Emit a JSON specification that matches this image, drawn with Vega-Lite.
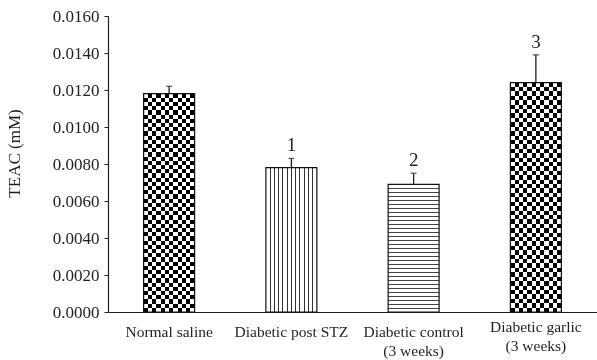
{
  "$schema": "https://vega.github.io/schema/vega-lite/v6.json",
  "autosize": {"type": "none"},
  "width": 489,
  "height": 296,
  "padding": {"left": 108, "top": 16, "right": 0, "bottom": 48},
  "background": "white",
  "config": {
    "view": {"stroke": null},
    "font": "Liberation Serif",
    "axis": {"labelFont": "Liberation Serif", "titleFont": "Liberation Serif", "labelColor": "#231f20", "titleColor": "#231f20", "domainColor": "#231f20", "tickColor": "#231f20", "grid": false, "labelOverlap": false}
  },
  "data": {
    "values": [
      {"group": "Normal saline", "teac": 0.0118, "upper": 0.0122, "sig": ""},
      {"group": "Diabetic post STZ", "teac": 0.0078, "upper": 0.0083, "sig": "1"},
      {"group": "Diabetic control (3 weeks)", "teac": 0.0069, "upper": 0.0075, "sig": "2"},
      {"group": "Diabetic garlic (3 weeks)", "teac": 0.0124, "upper": 0.0139, "sig": "3"}
    ]
  },
  "encoding": {
    "x": {
      "field": "group", "type": "nominal",
      "scale": {"domain": ["Normal saline", "Diabetic post STZ", "Diabetic control (3 weeks)", "Diabetic garlic (3 weeks)"], "paddingInner": 0.583, "paddingOuter": 0.2915},
      "axis": {
        "title": null, "ticks": false, "labelAngle": 0, "labelFontSize": 15.5,
        "labelPadding": {"condition": {"test": "datum.value == 'Diabetic garlic (3 weeks)'", "value": 7}, "value": 12},
        "labelLineHeight": 19, "domainWidth": 1.2,
        "labelExpr": "split(replace(datum.label, ' (', '|('), '|')"
      }
    },
    "y": {"field": "teac", "type": "quantitative", "scale": {"domain": [0, 0.016], "nice": false},
      "axis": {"title": "TEAC (mM)", "values": [0, 0.002, 0.004, 0.006, 0.008, 0.01, 0.012, 0.014, 0.016], "format": ".4f",
        "labelOverlap": false, "labelFontSize": 17, "titleFontSize": 17, "titleFontWeight": "normal", "tickSize": 4, "labelPadding": 5, "titlePadding": 29, "titleY": 137, "domainWidth": 1.2}}
  },
  "layer": [
    {
      "transform": [{"filter": "datum.group == 'Normal saline' || datum.group == 'Diabetic garlic (3 weeks)'"}],
      "mark": {"type": "bar", "fill": {"gradient": "linear", "x1": 0, "y1": 0, "x2": 1, "y2": 0, "stops": [
        {"offset": 0, "color": "black"}, {"offset": 0.08333, "color": "black"},
        {"offset": 0.08333, "color": "white"}, {"offset": 0.16667, "color": "white"},
        {"offset": 0.16667, "color": "black"}, {"offset": 0.25, "color": "black"},
        {"offset": 0.25, "color": "white"}, {"offset": 0.33333, "color": "white"},
        {"offset": 0.33333, "color": "black"}, {"offset": 0.41667, "color": "black"},
        {"offset": 0.41667, "color": "white"}, {"offset": 0.5, "color": "white"},
        {"offset": 0.5, "color": "black"}, {"offset": 0.58333, "color": "black"},
        {"offset": 0.58333, "color": "white"}, {"offset": 0.66667, "color": "white"},
        {"offset": 0.66667, "color": "black"}, {"offset": 0.75, "color": "black"},
        {"offset": 0.75, "color": "white"}, {"offset": 0.83333, "color": "white"},
        {"offset": 0.83333, "color": "black"}, {"offset": 0.91667, "color": "black"},
        {"offset": 0.91667, "color": "white"}, {"offset": 1, "color": "white"}
      ]}}
    },
    {
      "transform": [{"filter": "datum.group == 'Normal saline' || datum.group == 'Diabetic garlic (3 weeks)'"}],
      "mark": {"type": "bar", "blend": "difference", "fill": {"gradient": "linear", "x1": 0, "y1": 0, "x2": 0, "y2": 1, "stops": [
        {"offset": 0, "color": "white"}, {"offset": 0.01923, "color": "white"},
        {"offset": 0.01923, "color": "black"}, {"offset": 0.03846, "color": "black"},
        {"offset": 0.03846, "color": "white"}, {"offset": 0.05769, "color": "white"},
        {"offset": 0.05769, "color": "black"}, {"offset": 0.07692, "color": "black"},
        {"offset": 0.07692, "color": "white"}, {"offset": 0.09615, "color": "white"},
        {"offset": 0.09615, "color": "black"}, {"offset": 0.11538, "color": "black"},
        {"offset": 0.11538, "color": "white"}, {"offset": 0.13462, "color": "white"},
        {"offset": 0.13462, "color": "black"}, {"offset": 0.15385, "color": "black"},
        {"offset": 0.15385, "color": "white"}, {"offset": 0.17308, "color": "white"},
        {"offset": 0.17308, "color": "black"}, {"offset": 0.19231, "color": "black"},
        {"offset": 0.19231, "color": "white"}, {"offset": 0.21154, "color": "white"},
        {"offset": 0.21154, "color": "black"}, {"offset": 0.23077, "color": "black"},
        {"offset": 0.23077, "color": "white"}, {"offset": 0.25, "color": "white"},
        {"offset": 0.25, "color": "black"}, {"offset": 0.26923, "color": "black"},
        {"offset": 0.26923, "color": "white"}, {"offset": 0.28846, "color": "white"},
        {"offset": 0.28846, "color": "black"}, {"offset": 0.30769, "color": "black"},
        {"offset": 0.30769, "color": "white"}, {"offset": 0.32692, "color": "white"},
        {"offset": 0.32692, "color": "black"}, {"offset": 0.34615, "color": "black"},
        {"offset": 0.34615, "color": "white"}, {"offset": 0.36538, "color": "white"},
        {"offset": 0.36538, "color": "black"}, {"offset": 0.38462, "color": "black"},
        {"offset": 0.38462, "color": "white"}, {"offset": 0.40385, "color": "white"},
        {"offset": 0.40385, "color": "black"}, {"offset": 0.42308, "color": "black"},
        {"offset": 0.42308, "color": "white"}, {"offset": 0.44231, "color": "white"},
        {"offset": 0.44231, "color": "black"}, {"offset": 0.46154, "color": "black"},
        {"offset": 0.46154, "color": "white"}, {"offset": 0.48077, "color": "white"},
        {"offset": 0.48077, "color": "black"}, {"offset": 0.5, "color": "black"},
        {"offset": 0.5, "color": "white"}, {"offset": 0.51923, "color": "white"},
        {"offset": 0.51923, "color": "black"}, {"offset": 0.53846, "color": "black"},
        {"offset": 0.53846, "color": "white"}, {"offset": 0.55769, "color": "white"},
        {"offset": 0.55769, "color": "black"}, {"offset": 0.57692, "color": "black"},
        {"offset": 0.57692, "color": "white"}, {"offset": 0.59615, "color": "white"},
        {"offset": 0.59615, "color": "black"}, {"offset": 0.61538, "color": "black"},
        {"offset": 0.61538, "color": "white"}, {"offset": 0.63462, "color": "white"},
        {"offset": 0.63462, "color": "black"}, {"offset": 0.65385, "color": "black"},
        {"offset": 0.65385, "color": "white"}, {"offset": 0.67308, "color": "white"},
        {"offset": 0.67308, "color": "black"}, {"offset": 0.69231, "color": "black"},
        {"offset": 0.69231, "color": "white"}, {"offset": 0.71154, "color": "white"},
        {"offset": 0.71154, "color": "black"}, {"offset": 0.73077, "color": "black"},
        {"offset": 0.73077, "color": "white"}, {"offset": 0.75, "color": "white"},
        {"offset": 0.75, "color": "black"}, {"offset": 0.76923, "color": "black"},
        {"offset": 0.76923, "color": "white"}, {"offset": 0.78846, "color": "white"},
        {"offset": 0.78846, "color": "black"}, {"offset": 0.80769, "color": "black"},
        {"offset": 0.80769, "color": "white"}, {"offset": 0.82692, "color": "white"},
        {"offset": 0.82692, "color": "black"}, {"offset": 0.84615, "color": "black"},
        {"offset": 0.84615, "color": "white"}, {"offset": 0.86538, "color": "white"},
        {"offset": 0.86538, "color": "black"}, {"offset": 0.88462, "color": "black"},
        {"offset": 0.88462, "color": "white"}, {"offset": 0.90385, "color": "white"},
        {"offset": 0.90385, "color": "black"}, {"offset": 0.92308, "color": "black"},
        {"offset": 0.92308, "color": "white"}, {"offset": 0.94231, "color": "white"},
        {"offset": 0.94231, "color": "black"}, {"offset": 0.96154, "color": "black"},
        {"offset": 0.96154, "color": "white"}, {"offset": 0.98077, "color": "white"},
        {"offset": 0.98077, "color": "black"}, {"offset": 1, "color": "black"}
      ]}}
    },
    {
      "transform": [{"filter": "datum.group == 'Diabetic post STZ'"}],
      "mark": {"type": "bar", "fill": {"gradient": "linear", "x1": 0, "y1": 0, "x2": 1, "y2": 0, "stops": [
        {"offset": 0, "color": "white"},
        {"offset": 0.07333, "color": "white"}, {"offset": 0.07333, "color": "#333"}, {"offset": 0.09333, "color": "#333"}, {"offset": 0.09333, "color": "white"},
        {"offset": 0.15667, "color": "white"}, {"offset": 0.15667, "color": "#333"}, {"offset": 0.17667, "color": "#333"}, {"offset": 0.17667, "color": "white"},
        {"offset": 0.24, "color": "white"}, {"offset": 0.24, "color": "#333"}, {"offset": 0.26, "color": "#333"}, {"offset": 0.26, "color": "white"},
        {"offset": 0.32333, "color": "white"}, {"offset": 0.32333, "color": "#333"}, {"offset": 0.34333, "color": "#333"}, {"offset": 0.34333, "color": "white"},
        {"offset": 0.40667, "color": "white"}, {"offset": 0.40667, "color": "#333"}, {"offset": 0.42667, "color": "#333"}, {"offset": 0.42667, "color": "white"},
        {"offset": 0.49, "color": "white"}, {"offset": 0.49, "color": "#333"}, {"offset": 0.51, "color": "#333"}, {"offset": 0.51, "color": "white"},
        {"offset": 0.57333, "color": "white"}, {"offset": 0.57333, "color": "#333"}, {"offset": 0.59333, "color": "#333"}, {"offset": 0.59333, "color": "white"},
        {"offset": 0.65667, "color": "white"}, {"offset": 0.65667, "color": "#333"}, {"offset": 0.67667, "color": "#333"}, {"offset": 0.67667, "color": "white"},
        {"offset": 0.74, "color": "white"}, {"offset": 0.74, "color": "#333"}, {"offset": 0.76, "color": "#333"}, {"offset": 0.76, "color": "white"},
        {"offset": 0.82333, "color": "white"}, {"offset": 0.82333, "color": "#333"}, {"offset": 0.84333, "color": "#333"}, {"offset": 0.84333, "color": "white"},
        {"offset": 0.90667, "color": "white"}, {"offset": 0.90667, "color": "#333"}, {"offset": 0.92667, "color": "#333"}, {"offset": 0.92667, "color": "white"},
        {"offset": 1, "color": "white"}
      ]}}
    },
    {
      "transform": [{"filter": "datum.group == 'Diabetic control (3 weeks)'"}],
      "mark": {"type": "bar", "fill": {"gradient": "linear", "x1": 0, "y1": 0, "x2": 0, "y2": 1, "stops": [
        {"offset": 0, "color": "white"},
        {"offset": 0.02725, "color": "white"}, {"offset": 0.02725, "color": "#444"}, {"offset": 0.03525, "color": "#444"}, {"offset": 0.03525, "color": "white"},
        {"offset": 0.0585, "color": "white"}, {"offset": 0.0585, "color": "#444"}, {"offset": 0.0665, "color": "#444"}, {"offset": 0.0665, "color": "white"},
        {"offset": 0.08975, "color": "white"}, {"offset": 0.08975, "color": "#444"}, {"offset": 0.09775, "color": "#444"}, {"offset": 0.09775, "color": "white"},
        {"offset": 0.121, "color": "white"}, {"offset": 0.121, "color": "#444"}, {"offset": 0.129, "color": "#444"}, {"offset": 0.129, "color": "white"},
        {"offset": 0.15225, "color": "white"}, {"offset": 0.15225, "color": "#444"}, {"offset": 0.16025, "color": "#444"}, {"offset": 0.16025, "color": "white"},
        {"offset": 0.1835, "color": "white"}, {"offset": 0.1835, "color": "#444"}, {"offset": 0.1915, "color": "#444"}, {"offset": 0.1915, "color": "white"},
        {"offset": 0.21475, "color": "white"}, {"offset": 0.21475, "color": "#444"}, {"offset": 0.22275, "color": "#444"}, {"offset": 0.22275, "color": "white"},
        {"offset": 0.246, "color": "white"}, {"offset": 0.246, "color": "#444"}, {"offset": 0.254, "color": "#444"}, {"offset": 0.254, "color": "white"},
        {"offset": 0.27725, "color": "white"}, {"offset": 0.27725, "color": "#444"}, {"offset": 0.28525, "color": "#444"}, {"offset": 0.28525, "color": "white"},
        {"offset": 0.3085, "color": "white"}, {"offset": 0.3085, "color": "#444"}, {"offset": 0.3165, "color": "#444"}, {"offset": 0.3165, "color": "white"},
        {"offset": 0.33975, "color": "white"}, {"offset": 0.33975, "color": "#444"}, {"offset": 0.34775, "color": "#444"}, {"offset": 0.34775, "color": "white"},
        {"offset": 0.371, "color": "white"}, {"offset": 0.371, "color": "#444"}, {"offset": 0.379, "color": "#444"}, {"offset": 0.379, "color": "white"},
        {"offset": 0.40225, "color": "white"}, {"offset": 0.40225, "color": "#444"}, {"offset": 0.41025, "color": "#444"}, {"offset": 0.41025, "color": "white"},
        {"offset": 0.4335, "color": "white"}, {"offset": 0.4335, "color": "#444"}, {"offset": 0.4415, "color": "#444"}, {"offset": 0.4415, "color": "white"},
        {"offset": 0.46475, "color": "white"}, {"offset": 0.46475, "color": "#444"}, {"offset": 0.47275, "color": "#444"}, {"offset": 0.47275, "color": "white"},
        {"offset": 0.496, "color": "white"}, {"offset": 0.496, "color": "#444"}, {"offset": 0.504, "color": "#444"}, {"offset": 0.504, "color": "white"},
        {"offset": 0.52725, "color": "white"}, {"offset": 0.52725, "color": "#444"}, {"offset": 0.53525, "color": "#444"}, {"offset": 0.53525, "color": "white"},
        {"offset": 0.5585, "color": "white"}, {"offset": 0.5585, "color": "#444"}, {"offset": 0.5665, "color": "#444"}, {"offset": 0.5665, "color": "white"},
        {"offset": 0.58975, "color": "white"}, {"offset": 0.58975, "color": "#444"}, {"offset": 0.59775, "color": "#444"}, {"offset": 0.59775, "color": "white"},
        {"offset": 0.621, "color": "white"}, {"offset": 0.621, "color": "#444"}, {"offset": 0.629, "color": "#444"}, {"offset": 0.629, "color": "white"},
        {"offset": 0.65225, "color": "white"}, {"offset": 0.65225, "color": "#444"}, {"offset": 0.66025, "color": "#444"}, {"offset": 0.66025, "color": "white"},
        {"offset": 0.6835, "color": "white"}, {"offset": 0.6835, "color": "#444"}, {"offset": 0.6915, "color": "#444"}, {"offset": 0.6915, "color": "white"},
        {"offset": 0.71475, "color": "white"}, {"offset": 0.71475, "color": "#444"}, {"offset": 0.72275, "color": "#444"}, {"offset": 0.72275, "color": "white"},
        {"offset": 0.746, "color": "white"}, {"offset": 0.746, "color": "#444"}, {"offset": 0.754, "color": "#444"}, {"offset": 0.754, "color": "white"},
        {"offset": 0.77725, "color": "white"}, {"offset": 0.77725, "color": "#444"}, {"offset": 0.78525, "color": "#444"}, {"offset": 0.78525, "color": "white"},
        {"offset": 0.8085, "color": "white"}, {"offset": 0.8085, "color": "#444"}, {"offset": 0.8165, "color": "#444"}, {"offset": 0.8165, "color": "white"},
        {"offset": 0.83975, "color": "white"}, {"offset": 0.83975, "color": "#444"}, {"offset": 0.84775, "color": "#444"}, {"offset": 0.84775, "color": "white"},
        {"offset": 0.871, "color": "white"}, {"offset": 0.871, "color": "#444"}, {"offset": 0.879, "color": "#444"}, {"offset": 0.879, "color": "white"},
        {"offset": 0.90225, "color": "white"}, {"offset": 0.90225, "color": "#444"}, {"offset": 0.91025, "color": "#444"}, {"offset": 0.91025, "color": "white"},
        {"offset": 0.9335, "color": "white"}, {"offset": 0.9335, "color": "#444"}, {"offset": 0.9415, "color": "#444"}, {"offset": 0.9415, "color": "white"},
        {"offset": 0.96475, "color": "white"}, {"offset": 0.96475, "color": "#444"}, {"offset": 0.97275, "color": "#444"}, {"offset": 0.97275, "color": "white"},
        {"offset": 1, "color": "white"}
      ]}}
    },
    {
      "mark": {"type": "bar", "fill": "transparent", "stroke": "#111", "strokeWidth": 1.2}
    },
    {
      "mark": {"type": "rule", "color": "#231f20", "strokeWidth": 1.3},
      "encoding": {"y2": {"field": "upper"}}
    },
    {
      "mark": {"type": "tick", "color": "#231f20", "size": 6, "thickness": 1.3},
      "encoding": {"y": {"field": "upper", "type": "quantitative", "axis": {"title": "TEAC (mM)", "values": [0, 0.002, 0.004, 0.006, 0.008, 0.01, 0.012, 0.014, 0.016], "format": ".4f",
        "labelOverlap": false, "labelFontSize": 17, "titleFontSize": 17, "titleFontWeight": "normal", "tickSize": 4, "labelPadding": 5, "titlePadding": 29, "titleY": 137, "domainWidth": 1.2}}}
    },
    {
      "mark": {"type": "text", "font": "Liberation Serif", "fontSize": 19, "color": "#231f20", "baseline": "alphabetic", "dy": -7},
      "encoding": {"y": {"field": "upper", "type": "quantitative", "axis": {"title": "TEAC (mM)", "values": [0, 0.002, 0.004, 0.006, 0.008, 0.01, 0.012, 0.014, 0.016], "format": ".4f",
        "labelOverlap": false, "labelFontSize": 17, "titleFontSize": 17, "titleFontWeight": "normal", "tickSize": 4, "labelPadding": 5, "titlePadding": 29, "titleY": 137, "domainWidth": 1.2}}, "text": {"field": "sig"}}
    }
  ]
}
